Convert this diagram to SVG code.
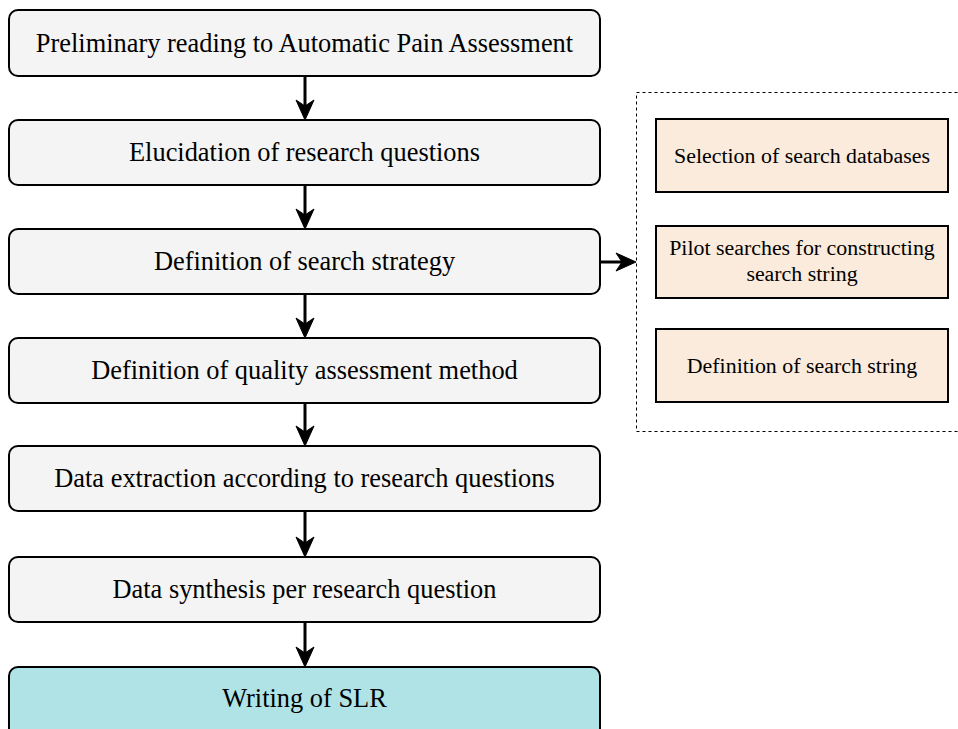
<svg xmlns="http://www.w3.org/2000/svg" width="958" height="729" viewBox="0 0 958 729">
<style>
.step{fill:#f4f4f4;stroke:#000;stroke-width:2}
.final{fill:#b0e3e6;stroke:#000;stroke-width:2}
.sub{fill:#faebdd;stroke:#000;stroke-width:2}
.big{font-family:"Liberation Serif","Times New Roman",serif;font-size:26.4px;fill:#000;text-anchor:middle;dominant-baseline:central}
.small{font-family:"Liberation Serif","Times New Roman",serif;font-size:21.9px;fill:#000;text-anchor:middle;dominant-baseline:central}
.conn{stroke:#000;stroke-width:3;fill:none}
.head{fill:#000;stroke:#000;stroke-width:1}
</style>
<defs>
<path id="hd" d="M0 0 L-9 -20 L0 -14 L9 -20 Z" class="head"/>
<path id="hr" d="M0 0 L-20 -9 L-14 0 L-20 9 Z" class="head"/>
</defs>
<g id="container">
<rect x="636.5" y="92.5" width="330" height="339" fill="none" stroke="#000" stroke-width="1" stroke-dasharray="3 3"/>
</g>
<g id="connectors">
<line class="conn" x1="305" y1="76" x2="305" y2="108"/><use href="#hd" x="305" y="120"/>
<line class="conn" x1="305" y1="185" x2="305" y2="217"/><use href="#hd" x="305" y="229"/>
<line class="conn" x1="305" y1="294" x2="305" y2="326"/><use href="#hd" x="305" y="338"/>
<line class="conn" x1="305" y1="403" x2="305" y2="434"/><use href="#hd" x="305" y="446"/>
<line class="conn" x1="305" y1="511" x2="305" y2="545"/><use href="#hd" x="305" y="557"/>
<line class="conn" x1="305" y1="622" x2="305" y2="655"/><use href="#hd" x="305" y="667"/>
<line class="conn" x1="600" y1="262" x2="624" y2="262"/><use href="#hr" x="636" y="262"/>
</g>
<g id="n1"><rect class="step" x="9" y="10" width="591" height="66" rx="9"/><text class="big" x="304.5" y="43">Preliminary reading to Automatic Pain Assessment</text></g>
<g id="n2"><rect class="step" x="9" y="120" width="591" height="65" rx="9"/><text class="big" x="304.5" y="152">Elucidation of research questions</text></g>
<g id="n3"><rect class="step" x="9" y="229" width="591" height="65" rx="9"/><text class="big" x="304.5" y="261">Definition of search strategy</text></g>
<g id="n4"><rect class="step" x="9" y="338" width="591" height="65" rx="9"/><text class="big" x="304.5" y="370">Definition of quality assessment method</text></g>
<g id="n5"><rect class="step" x="9" y="446" width="591" height="65" rx="9"/><text class="big" x="304.5" y="478">Data extraction according to research questions</text></g>
<g id="n6"><rect class="step" x="9" y="557" width="591" height="65" rx="9"/><text class="big" x="304.5" y="589">Data synthesis per research question</text></g>
<g id="n7"><rect class="final" x="9" y="667" width="591" height="72" rx="9"/><text class="big" x="304.5" y="698">Writing of SLR</text></g>
<g id="s1"><rect class="sub" x="656" y="119" width="292" height="73"/><text class="small" x="802" y="155">Selection of search databases</text></g>
<g id="s2"><rect class="sub" x="656" y="226" width="292" height="72"/><text class="small" x="802" y="247">Pilot searches for constructing</text><text class="small" x="802" y="273">search string</text></g>
<g id="s3"><rect class="sub" x="656" y="329" width="292" height="73"/><text class="small" x="802" y="365">Definition of search string</text></g>
</svg>
